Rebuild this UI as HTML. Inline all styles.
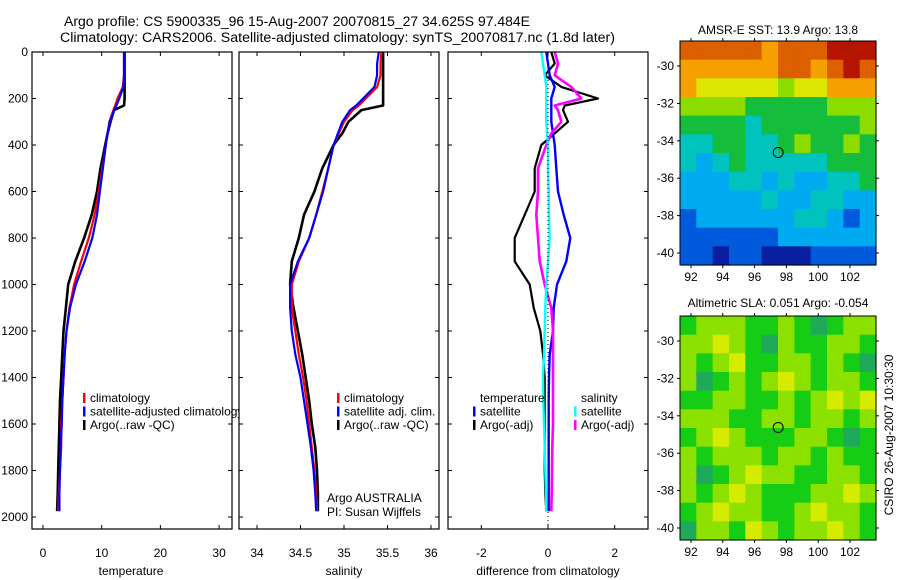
<!DOCTYPE html>
<html><head><meta charset="utf-8"><style>
body{margin:0;background:#fff;}
svg{display:block;font-family:"Liberation Sans",Arial,sans-serif;}
</style></head><body>
<svg id="fig" width="900" height="580" viewBox="0 0 900 580" xmlns="http://www.w3.org/2000/svg">
<defs><clipPath id="clip1"><rect x="0" y="0" width="239" height="580"/></clipPath></defs>
<rect width="900" height="580" fill="#fff"/>
<text x="64" y="26" font-size="13.5" textLength="466" lengthAdjust="spacingAndGlyphs">Argo profile: CS 5900335_96 15-Aug-2007 20070815_27 34.625S 97.484E</text>
<text x="60" y="42" font-size="13.5" textLength="555" lengthAdjust="spacingAndGlyphs">Climatology: CARS2006. Satellite-adjusted climatology: synTS_20070817.nc (1.8d later)</text>
<g id="layer"></g>
</svg>
<script>
// ---- data ----
const depths = [0,50,100,150,200,230,250,300,350,400,500,600,700,800,900,1000,1100,1200,1300,1400,1500,1600,1700,1800,1900,1975];
const tempArgo = [13.9,13.9,13.9,13.9,13.9,13.8,12.1,11.5,11.0,10.6,9.8,9.2,8.3,7.0,5.5,4.3,3.9,3.5,3.3,3.1,2.9,2.8,2.7,2.6,2.5,2.4];
const tempClim = [13.8,13.8,13.8,13.6,12.7,12.3,12.0,11.3,11.0,10.7,10.1,9.5,8.8,7.8,6.5,5.3,4.5,4.0,3.7,3.5,3.3,3.1,3.1,2.9,2.7,2.6];
const tempSat  = [13.8,13.8,13.8,13.7,13.0,12.5,12.1,11.4,11.0,10.7,10.2,9.7,9.2,8.4,7.1,5.6,4.6,4.0,3.7,3.5,3.3,3.2,3.0,2.9,2.8,2.8];
const salArgo = [35.45,35.45,35.45,35.45,35.45,35.45,35.2,35.05,34.98,34.88,34.75,34.66,34.54,34.48,34.4,34.38,34.42,34.47,34.52,34.56,34.6,34.63,34.67,34.69,34.7,34.7];
const salClim = [35.43,35.42,35.42,35.38,35.25,35.17,35.1,35.0,34.94,34.88,34.82,34.75,34.68,34.6,34.48,34.4,34.4,34.44,34.48,34.53,34.57,34.6,34.63,34.66,34.68,34.69];
const salSat  = [35.4,35.38,35.38,35.35,35.22,35.14,35.07,34.98,34.93,34.88,34.82,34.76,34.68,34.6,34.47,34.38,34.38,34.4,34.44,34.5,34.54,34.58,34.62,34.65,34.67,34.68];
const diffTempSat  = [-0.05,0.0,0.05,0.2,0.1,0.1,0.1,0.1,0.15,0.2,0.25,0.3,0.47,0.67,0.55,0.27,0.17,0.15,0.05,0.03,0.02,0.02,0.02,0.02,0.02,0.02];
const diffTempArgo = [0.1,0.2,-0.1,0.4,1.5,0.5,0.45,0.6,0.2,-0.2,-0.4,-0.4,-0.7,-1.0,-1.0,-0.55,-0.43,-0.23,-0.15,-0.1,-0.1,-0.1,-0.1,-0.1,-0.08,-0.05];
const diffSalSat   = [-0.2,-0.15,-0.1,-0.05,-0.05,-0.05,-0.05,-0.05,-0.03,0.0,0.0,0.02,0.03,0.05,0.0,-0.05,-0.08,-0.1,-0.12,-0.15,-0.14,-0.12,-0.1,-0.08,-0.06,-0.05];
const diffSalArgo  = [0.2,0.3,0.2,0.7,1.0,0.2,0.3,0.4,0.1,-0.05,-0.3,-0.3,-0.35,-0.3,-0.25,-0.1,0.1,0.15,0.15,0.15,0.15,0.15,0.13,0.12,0.11,0.1];
const depthTicks = [0,200,400,600,800,1000,1200,1400,1600,1800,2000];
const tempTicks = [0,10,20,30];
const salTicks = [34,34.5,35,35.5,36];
const diffTicks = [-2,0,2];
const lonTicks = [92,94,96,98,100,102];
const latTicks = [-30,-32,-34,-36,-38,-40];
const argoLon = 97.484, argoLat = -34.625;
const sstGrid = [
[8,8,8,8,8,7,8,8,8,9,9,9],
[7,7,7,7,7,7,8,8,7,8,9,8],
[7,6,6,6,6,6,5,6,6,7,7,7],
[5,5,5,5,4,4,4,4,4,5,5,5],
[4,4,4,4,3,4,4,4,4,4,4,5],
[3,3,4,4,3,3,4,5,4,4,5,4],
[3,2,3,4,3,3,3,3,3,4,4,4],
[2,2,2,3,3,2,3,2,2,3,3,4],
[2,2,2,2,2,3,2,2,3,3,2,2],
[1,2,2,2,2,2,2,3,3,2,1,2],
[1,1,1,1,1,1,2,2,2,2,2,2],
[1,1,0,1,1,0,0,0,1,1,1,1]];
const slaGrid = [
[1,2,2,2,1,1,2,1,0,1,2,2],
[2,2,3,2,1,0,2,1,1,2,2,1],
[2,1,2,3,1,1,2,2,1,2,1,0],
[2,0,1,2,1,2,3,2,1,2,2,1],
[1,1,2,2,1,1,2,1,2,3,2,3],
[2,2,2,1,1,2,2,1,2,2,1,2],
[1,2,3,2,1,1,1,2,2,1,0,1],
[2,1,2,2,2,1,2,2,1,2,1,1],
[2,0,1,2,3,2,2,1,1,2,2,1],
[2,1,2,3,2,1,1,1,2,2,3,2],
[1,2,3,2,2,1,1,2,3,2,2,1],
[0,2,2,1,3,2,1,2,2,3,2,1]];
const sstColors = ["rgb(10,30,160)","rgb(0,90,220)","rgb(0,170,240)","rgb(0,195,190)","rgb(20,190,60)","rgb(140,220,0)","rgb(220,230,0)","rgb(245,160,0)","rgb(220,95,0)","rgb(180,20,0)"];
const slaColors = ["rgb(30,170,90)","rgb(20,205,20)","rgb(140,225,0)","rgb(215,235,0)"];

// ---- helpers ----
const NS="http://www.w3.org/2000/svg";
const layer=document.getElementById('layer');
function mk(tag,attrs,parent){const e=document.createElementNS(NS,tag);for(const k in attrs)e.setAttribute(k,attrs[k]);(parent||layer).appendChild(e);return e;}
function txt(x,y,s,size,anchor,parent){const t=mk('text',{x:x,y:y,'font-size':size,'text-anchor':anchor||'start'},parent);t.textContent=s;return t;}

const Y0=52, Y1=517, YT=52, YB=529;
function yDepth(d){return Y0+(Y1-Y0)*d/2000;}

function profilePanel(name,x0,x1,vmin,vmax,ticks,xlabel,series,showY){
  const g=mk('g',{});
  
  
  const sx=v=>x0+(x1-x0)*(v-vmin)/(vmax-vmin);
  for(const s of series){
    let d='';
    for(let i=0;i<s.vals.length;i++){d+=(i?'L':'M')+sx(s.vals[i]).toFixed(1)+','+yDepth(depths[i]).toFixed(1);}
    const p=mk('path',{d:d,fill:'none',stroke:s.color,'stroke-width':s.w||2.2,'stroke-linejoin':'round'},g);
    
    
  }
  const frame=mk('rect',{x:x0,y:YT,width:x1-x0,height:YB-YT,fill:'none',stroke:'#000','stroke-width':1.2},g);
  
  
  for(const t of ticks){const x=sx(t);
    mk('line',{x1:x,y1:YT,x2:x,y2:YT+4,stroke:'#000'},g);
    mk('line',{x1:x,y1:YB,x2:x,y2:YB-4,stroke:'#000'},g);
    const l=txt(x,557,String(t),12,'middle',g);
    
    
  }
  for(const d of depthTicks){const y=yDepth(d);
    mk('line',{x1:x0,y1:y,x2:x0+4,y2:y,stroke:'#000'},g);
    mk('line',{x1:x1,y1:y,x2:x1-4,y2:y,stroke:'#000'},g);
    if(showY){const l=txt(28,y+4,String(d),12,'end',g);
      
      }
  }
  const xl=txt((sx(ticks[0])+sx(ticks[ticks.length-1]))/2,575,xlabel,12,'middle',g);
  
  
  return {g,sx};
}

const p1=profilePanel('temperature-panel',32,232,-1.87,32.2,tempTicks,'temperature',[
 {name:'temp-argo-line',vals:tempArgo,color:'#000',w:2.6},
 {name:'temp-clim-line',vals:tempClim,color:'#f00'},
 {name:'temp-sat-line',vals:tempSat,color:'#00f'}],true);
const p2=profilePanel('salinity-panel',239,439,33.793,36.092,salTicks,'salinity',[
 {name:'sal-argo-line',vals:salArgo,color:'#000',w:2.6},
 {name:'sal-clim-line',vals:salClim,color:'#f00'},
 {name:'sal-sat-line',vals:salSat,color:'#00f'}],false);
const p3=profilePanel('difference-panel',448,648,-3,3,diffTicks,'difference from climatology',[
 {name:'diff-temp-argo-line',vals:diffTempArgo,color:'#000'},
 {name:'diff-temp-sat-line',vals:diffTempSat,color:'#00f',w:2.4},
 {name:'diff-sal-argo-line',vals:diffSalArgo,color:'#f0f',w:2.6},
 {name:'diff-sal-sat-line',vals:diffSalSat,color:'#0ff',w:2.4}],false);
const zl=mk('line',{x1:p3.sx(0),y1:YT,x2:p3.sx(0),y2:YB,stroke:'#000','stroke-dasharray':'1,3'},p3.g);



function legend(name,x,y,items,clip){
  const g=mk('g',{});
  
  
  if(clip) g.setAttribute('clip-path','url(#clip1)');
  items.forEach((it,i)=>{
    const yy=y+i*13.5;
    if(it.color) mk('rect',{x:x,y:yy-9,width:2.5,height:10,fill:it.color},g);
    const t=txt(x+7,yy,it.label,12,'start',g);
    
    
  });
}
legend('temperature-legend',83,402,[{color:'#f00',label:'climatology'},{color:'#00f',label:'satellite-adjusted climatology'},{color:'#000',label:'Argo(..raw -QC)'}],true);
legend('salinity-legend',337,402,[{color:'#f00',label:'climatology'},{color:'#00f',label:'satellite adj. clim.'},{color:'#000',label:'Argo(..raw -QC)'}]);
legend('diff-temp-legend',473,402,[{label:'temperature'},{color:'#00f',label:'satellite'},{color:'#000',label:'Argo(-adj)'}]);
legend('diff-sal-legend',574,402,[{label:'salinity'},{color:'#0ff',label:'satellite'},{color:'#f0f',label:'Argo(-adj)'}]);
const a1=txt(327,502,'Argo AUSTRALIA',12,'start');


const a2=txt(327,516,'PI: Susan Wijffels',12,'start');



// ---- maps ----
function mapPanel(name,top,bottom,grid,colors,title,titleY){
  const g=mk('g',{});
  
  
  const L=680,R=876;
  const sx=lon=>691+(lon-92)*(850-691)/10;
  const latTop=-30, y30=top+25, y40=top+212;
  const sy=lat=>y30+(lat-latTop)*(y40-y30)/(-10);
  const rows=grid.length, cols=grid[0].length;
  const cw=(R-L)/cols, ch=(bottom-top)/rows;
  grid.forEach((row,r)=>row.forEach((v,c)=>{
    const cell=mk('rect',{x:(L+c*cw).toFixed(2),y:(top+r*ch).toFixed(2),width:(cw+0.6).toFixed(2),height:(ch+0.6).toFixed(2),fill:colors[v]},g);
    
    
  }));
  mk('rect',{x:L,y:top,width:R-L,height:bottom-top,fill:'none',stroke:'#000'},g);
  for(const lo of lonTicks){const x=sx(lo);
    mk('line',{x1:x,y1:top,x2:x,y2:top-3,stroke:'#000'},g);
    mk('line',{x1:x,y1:bottom,x2:x,y2:bottom+3,stroke:'#000'},g);
    const t=txt(x,bottom+16,String(lo),12,'middle',g);
    
    }
  for(const la of latTicks){const y=sy(la);
    mk('line',{x1:L,y1:y,x2:L-3,y2:y,stroke:'#000'},g);
    mk('line',{x1:R,y1:y,x2:R+3,y2:y,stroke:'#000'},g);
    const t=txt(L-6,y+4,String(la),12,'end',g);
    
    }
  const c=mk('circle',{cx:sx(argoLon),cy:sy(argoLat),r:5,fill:'none',stroke:'#000','stroke-width':1},g);
  
  
  const t=txt(778,titleY,title,12,'middle',g);
  
  
}
mapPanel('sst-map',41,265,sstGrid,sstColors,'AMSR-E SST: 13.9 Argo: 13.8',34);
mapPanel('sla-map',316,540,slaGrid,slaColors,'Altimetric SLA: 0.051  Argo: -0.054',307);
const cs=txt(0,0,'CSIRO 26-Aug-2007 10:30:30',12,'middle');
cs.setAttribute('transform','translate(893,435) rotate(-90)');


</script>
</body></html>
